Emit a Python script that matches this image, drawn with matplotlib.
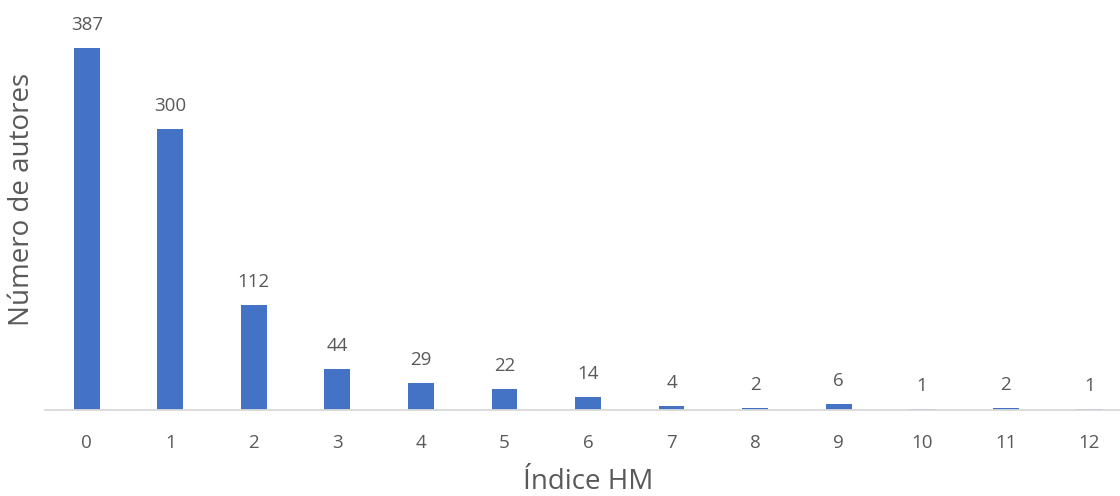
import matplotlib
matplotlib.use("Agg")
import matplotlib.pyplot as plt

categories = ["0", "1", "2", "3", "4", "5", "6", "7", "8", "9", "10", "11", "12"]
values = [387, 300, 112, 44, 29, 22, 14, 4, 2, 6, 1, 2, 1]

plt.rcParams['font.family'] = ['Open Sans', 'DejaVu Sans']
text_color = "#595959"

fig = plt.figure(figsize=(11.2, 4.96), dpi=100)
W, H = 1120, 496
left, right, top, bottom = 45, 1120, 0, 410
ax = fig.add_axes([left / W, (H - bottom) / H, (right - left) / W, (bottom - top) / H])

x = list(range(len(categories)))
ax.bar(x, values, width=0.31, color="#4472C4", zorder=2)
for xi, v in zip(x, values):
    ax.annotate(str(v), (xi, v), xytext=(0, 13), textcoords="offset points",
                ha="center", va="baseline", fontsize=13.5, color=text_color)

ax.set_xlim(-0.5, 12.5 - 11 / 83.5)
ax.set_ylim(0, 438)
ax.set_xticks(x)
ax.set_xticklabels(categories, fontsize=13.5, color=text_color)
ax.tick_params(axis="x", length=0, pad=17)
ax.set_yticks([])
for s in ["top", "right", "left"]:
    ax.spines[s].set_visible(False)
ax.spines["bottom"].set_color("#D9D9D9")
ax.spines["bottom"].set_linewidth(1.3)

fig.text(588 / W, 1 - 482 / H, "Índice HM", ha="center", va="center",
         fontsize=20, color=text_color)
fig.text(22 / W, 1 - 199 / H, "Número de autores", ha="center", va="center",
         rotation=90, fontsize=20, color=text_color)

fig.savefig("out.png", dpi=100)
